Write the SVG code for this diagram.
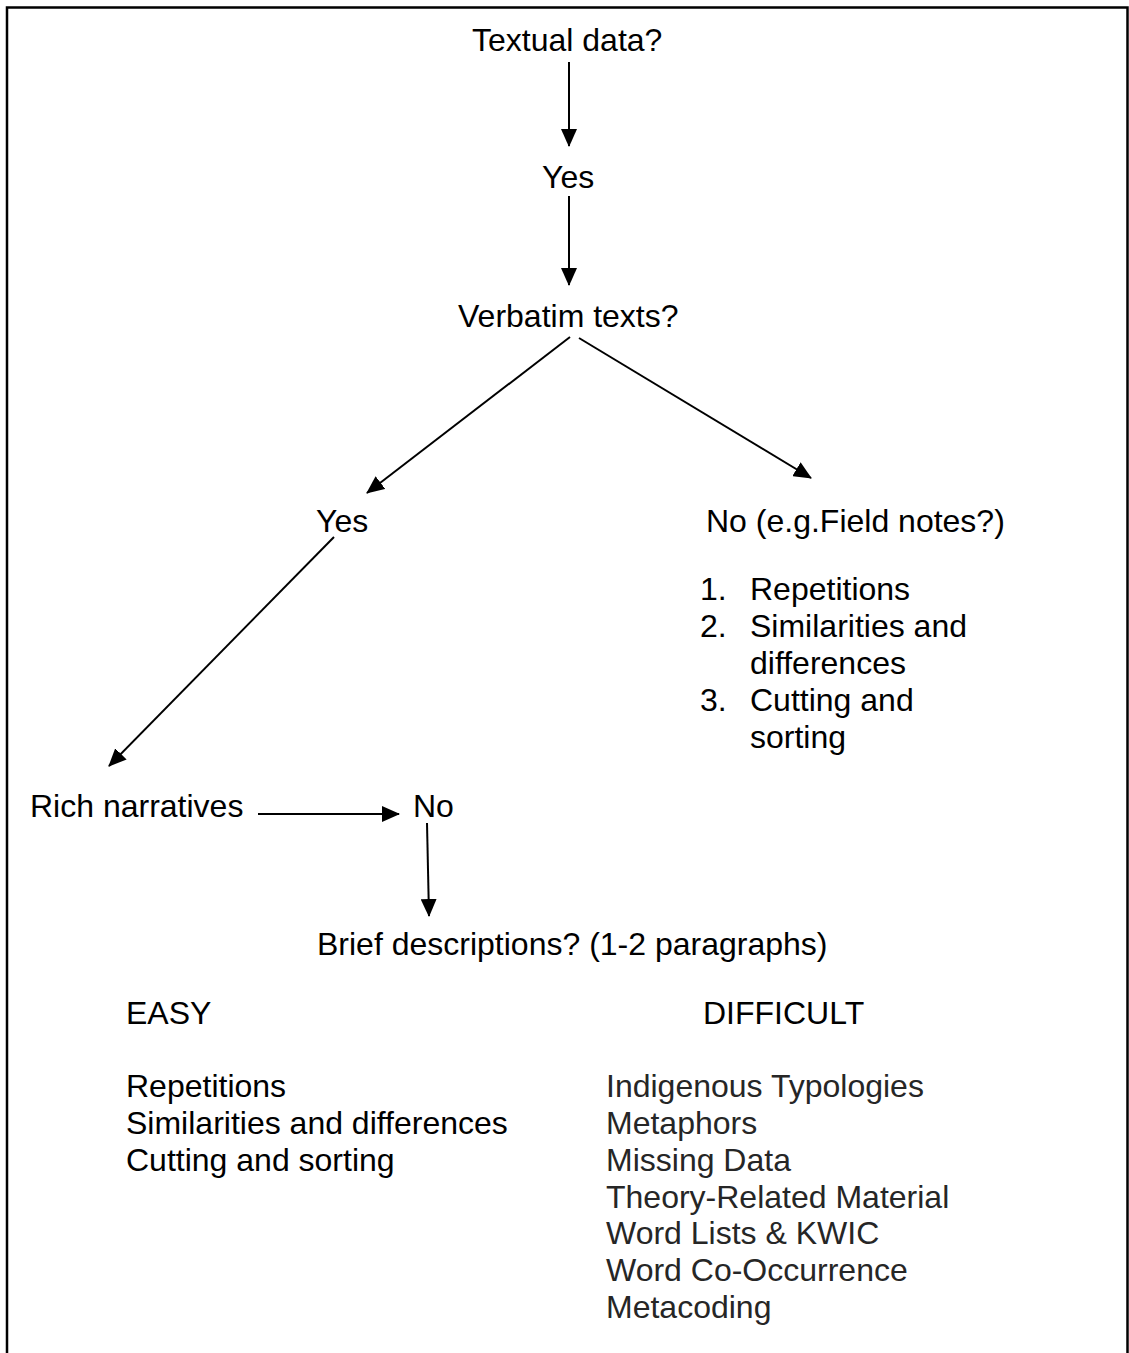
<svg xmlns="http://www.w3.org/2000/svg" width="1129" height="1353" viewBox="0 0 1129 1353">
<defs>
<style>
text{font-family:"Liberation Sans",Arial,sans-serif;font-size:32px;fill:#000}
.g{fill:#262626}
.c{stroke:#000;stroke-width:2;fill:none}
</style>
<marker id="ah" markerUnits="userSpaceOnUse" markerWidth="18" markerHeight="16" refX="17" refY="8" orient="auto" viewBox="0 0 18 16">
<path d="M0,0 L18,8 L0,16 z" fill="#000"/>
</marker>
</defs>
<rect width="1129" height="1353" fill="#fff"/>
<path d="M7,1353 V7.5 H1127.5 V1353" fill="none" stroke="#000" stroke-width="2.5"/>
<g id="connectors">
<line class="c" x1="569" y1="62" x2="569" y2="146" marker-end="url(#ah)"/>
<line class="c" x1="569" y1="196" x2="569" y2="285" marker-end="url(#ah)"/>
<line class="c" x1="570" y1="337" x2="367" y2="493" marker-end="url(#ah)"/>
<line class="c" x1="579" y1="338" x2="811" y2="478" marker-end="url(#ah)"/>
<line class="c" x1="334" y1="537" x2="109" y2="766" marker-end="url(#ah)"/>
<line class="c" x1="258" y1="814" x2="399" y2="814" marker-end="url(#ah)"/>
<line class="c" x1="427" y1="823" x2="429" y2="916" marker-end="url(#ah)"/>
</g>
<g id="n-textual"><text x="472" y="51">Textual data?</text></g>
<g id="n-yes1"><text x="542" y="188">Yes</text></g>
<g id="n-verbatim"><text x="458" y="327">Verbatim texts?</text></g>
<g id="n-yes2"><text x="316" y="532">Yes</text></g>
<g id="n-no1"><text x="706" y="532">No (e.g.Field notes?)</text>
<text x="700" y="600">1.</text><text x="750" y="600">Repetitions</text>
<text x="700" y="637">2.</text><text x="750" y="637">Similarities and</text>
<text x="750" y="674">differences</text>
<text x="700" y="711">3.</text><text x="750" y="711">Cutting and</text>
<text x="750" y="748">sorting</text>
</g>
<g id="n-rich"><text x="30" y="817">Rich narratives</text></g>
<g id="n-no2"><text x="413" y="817">No</text></g>
<g id="n-brief"><text x="317" y="955">Brief descriptions? (1-2 paragraphs)</text></g>
<g id="n-easy"><text x="126" y="1024">EASY</text>
<text x="126" y="1097">Repetitions</text>
<text x="126" y="1134">Similarities and differences</text>
<text x="126" y="1171">Cutting and sorting</text>
</g>
<g id="n-difficult"><text x="703" y="1024">DIFFICULT</text>
<text class="g" x="606" y="1097">Indigenous Typologies</text>
<text class="g" x="606" y="1134">Metaphors</text>
<text class="g" x="606" y="1171">Missing Data</text>
<text class="g" x="606" y="1208">Theory-Related Material</text>
<text class="g" x="606" y="1244">Word Lists &amp; KWIC</text>
<text class="g" x="606" y="1281">Word Co-Occurrence</text>
<text class="g" x="606" y="1318">Metacoding</text>
</g>
</svg>
